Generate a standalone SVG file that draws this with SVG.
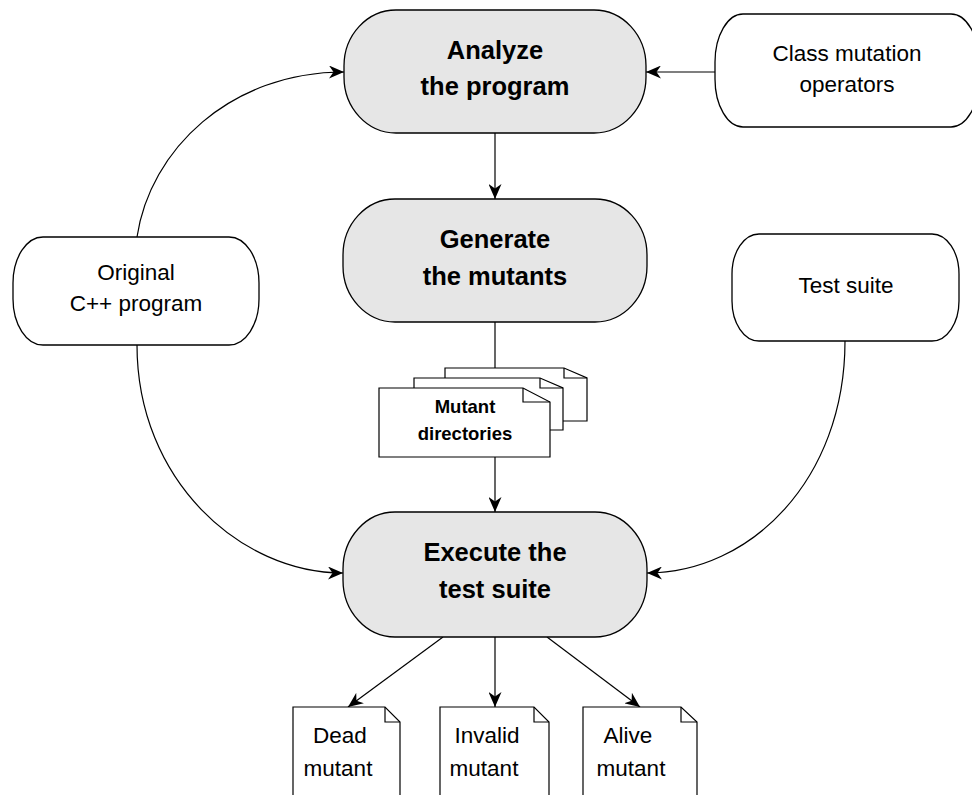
<svg xmlns="http://www.w3.org/2000/svg" width="972" height="795" viewBox="0 0 972 795">
<style>
.proc{fill:#e6e6e6;stroke:#000;stroke-width:1.3}
.ext{fill:#fff;stroke:#000;stroke-width:1.3}
.doc{fill:#fff;stroke:#000;stroke-width:1.2}
.fold{fill:none;stroke:#000;stroke-width:1.2}
.edge{fill:none;stroke:#000;stroke-width:1.2}
.b{font-family:"Liberation Sans",Arial,sans-serif;font-weight:bold;font-size:25.5px;text-anchor:middle;fill:#000}
.r{font-family:"Liberation Sans",Arial,sans-serif;font-size:22.5px;text-anchor:middle;fill:#000}
.s{font-family:"Liberation Sans",Arial,sans-serif;font-weight:bold;font-size:18.5px;text-anchor:middle;fill:#000}
</style>
<defs>
<marker id="arr" viewBox="0 0 15 13" refX="15" refY="6.5" markerWidth="15" markerHeight="13" orient="auto" markerUnits="userSpaceOnUse">
<path d="M0,0 L15,6.5 L0,13 L4.5,6.5 Z" fill="#000"/>
</marker>
</defs>
<g id="connectors">
<path class="edge" d="M137,237 C150,150 230,72 344,72" marker-end="url(#arr)"/>
<path class="edge" d="M715,72 H646" marker-end="url(#arr)"/>
<path class="edge" d="M495,133 V199" marker-end="url(#arr)"/>
<path class="edge" d="M137,345 C137,480 240,573 343,573" marker-end="url(#arr)"/>
<path class="edge" d="M845,341 C845,480 750,573 647,573" marker-end="url(#arr)"/>
<path class="edge" d="M495,322 V368"/>
<path class="edge" d="M495,457 V512" marker-end="url(#arr)"/>
<path class="edge" d="M443,637 L348,707" marker-end="url(#arr)"/>
<path class="edge" d="M495,637 V707" marker-end="url(#arr)"/>
<path class="edge" d="M547,637 L640,707" marker-end="url(#arr)"/>
</g>
<g id="analyze">
<rect class="proc" x="344" y="10" width="302" height="123" rx="52" ry="56"/>
<text class="b" x="495" y="59">Analyze</text>
<text class="b" x="495" y="95">the program</text>
</g>
<g id="class-ops">
<rect class="ext" x="715" y="14" width="264" height="113" rx="28" ry="48"/>
<text class="r" x="847" y="61">Class mutation</text>
<text class="r" x="847" y="92">operators</text>
</g>
<g id="generate">
<rect class="proc" x="343" y="199" width="304" height="123" rx="52" ry="56"/>
<text class="b" x="495" y="248">Generate</text>
<text class="b" x="495" y="285">the mutants</text>
</g>
<g id="original">
<rect class="ext" x="13" y="237" width="246" height="108" rx="30" ry="46"/>
<text class="r" x="136" y="280">Original</text>
<text class="r" x="136" y="311">C++ program</text>
</g>
<g id="test-suite">
<rect class="ext" x="732" y="234" width="227" height="107" rx="27" ry="40"/>
<text class="r" x="846" y="293">Test suite</text>
</g>
<g id="mutant-dirs">
<path class="doc" d="M445,368 H564 L587,378 V421 H445 Z"/>
<path class="fold" d="M564,368 V378 H587"/>
<path class="doc" d="M414,378 H540 L563,388 V430 H414 Z"/>
<path class="fold" d="M540,378 V388 H563"/>
<path class="doc" d="M379,388 H523 L550,402 V457 H379 Z"/>
<path class="fold" d="M523,388 V402 H550"/>
<text class="s" x="465" y="413">Mutant</text>
<text class="s" x="465" y="440">directories</text>
</g>
<g id="execute">
<rect class="proc" x="343" y="512" width="304" height="125" rx="52" ry="57"/>
<text class="b" x="495" y="561">Execute the</text>
<text class="b" x="495" y="598">test suite</text>
</g>
<g id="dead">
<path class="doc" d="M293,707 H385 L400,722 V800 H293 Z"/>
<path class="fold" d="M385,707 V722 H400"/>
<text class="r" x="340" y="743">Dead</text>
<text class="r" x="338" y="776">mutant</text>
</g>
<g id="invalid">
<path class="doc" d="M440,707 H534 L549,722 V800 H440 Z"/>
<path class="fold" d="M534,707 V722 H549"/>
<text class="r" x="487" y="743">Invalid</text>
<text class="r" x="484" y="776">mutant</text>
</g>
<g id="alive">
<path class="doc" d="M583,707 H681 L697,722 V800 H583 Z"/>
<path class="fold" d="M681,707 V722 H697"/>
<text class="r" x="628" y="743">Alive</text>
<text class="r" x="631" y="776">mutant</text>
</g>
</svg>
